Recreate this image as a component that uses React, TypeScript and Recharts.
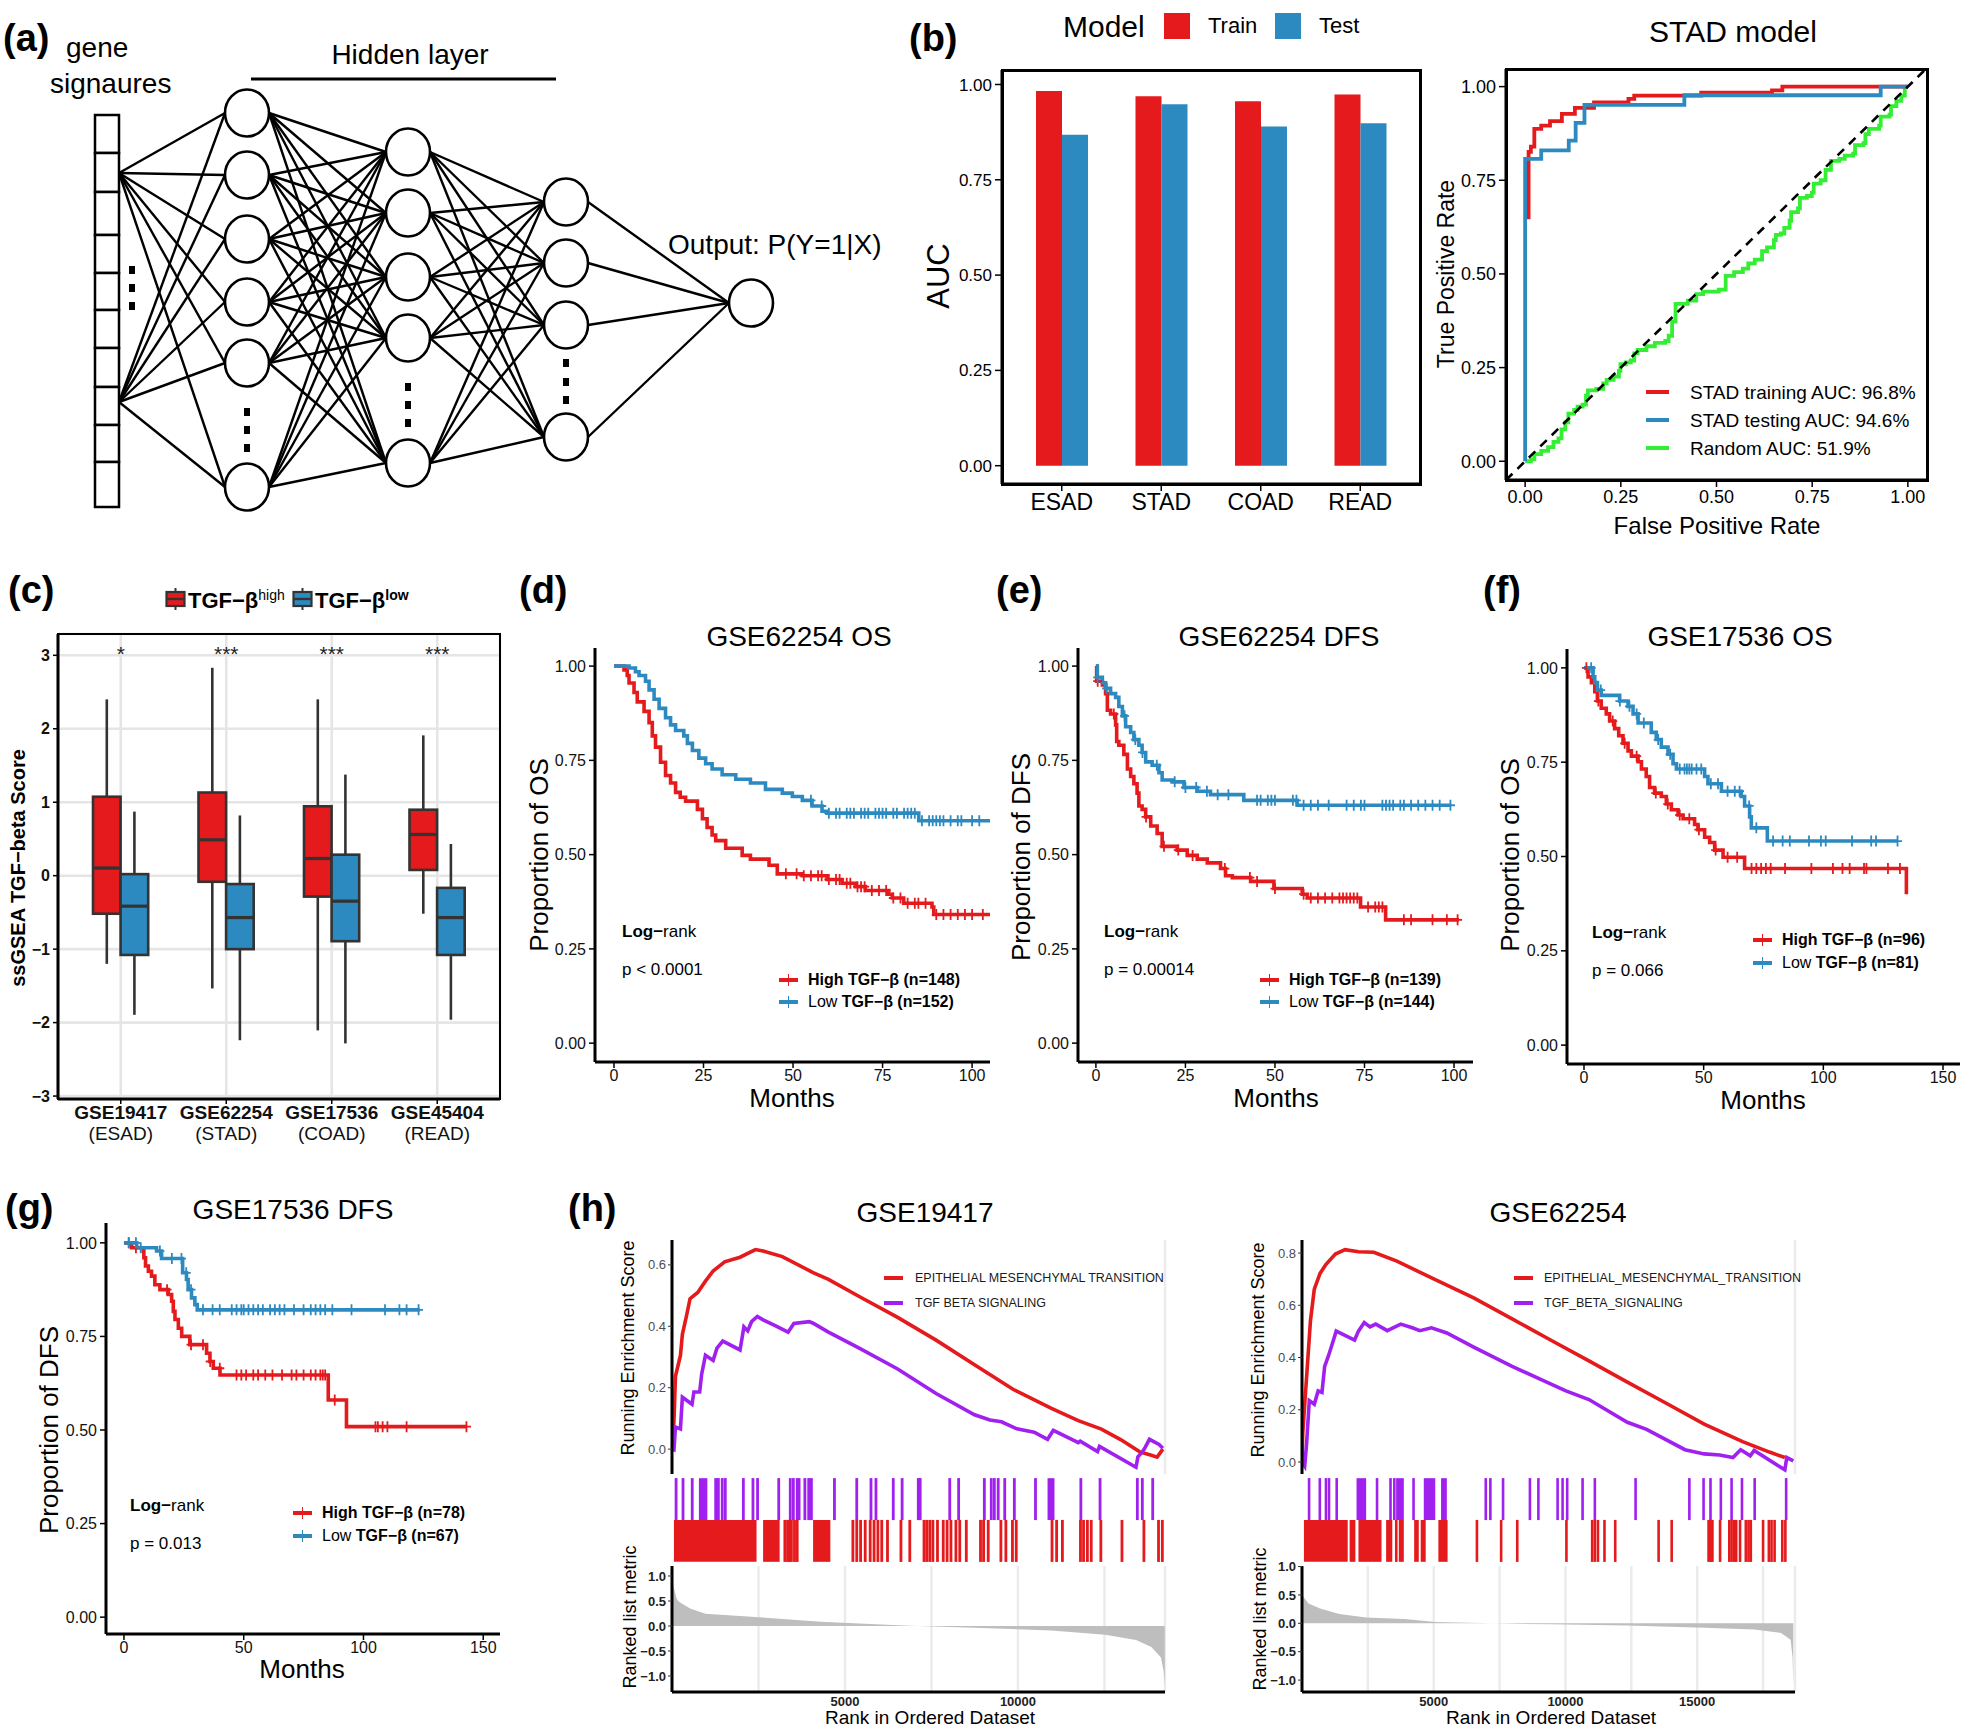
import React from 'react';
import {
  ComposedChart,
  BarChart,
  Bar,
  Line,
  Area,
  Scatter,
  XAxis,
  YAxis,
  CartesianGrid,
  ReferenceLine,
  ReferenceArea,
  ReferenceDot,
} from 'recharts';

const FONT = '"Liberation Sans", Arial, Helvetica, sans-serif';
const RED = '#E41A1C';
const BLUE = '#2C8AC0';
const PURPLE = '#A020F0';
const LIME = '#33EE33';
const GRID = '#EBEBEB';

type Pt = [number, number];
type Frame = { x0: number; y0: number; x1: number; y1: number };

// ---------- (a) network diagram ----------
const netInputFan = [173, 402];
const netLayers = [
  [113, 175, 239, 302, 363, 487],
  [152, 213, 277, 338, 463],
  [202, 263, 325, 437],
  [303],
];
const netLayerX = [247, 408, 566, 751];
const netInputCells = [115, 153, 192, 235, 273, 310, 348, 387, 425, 462, 507];
const netDots = [
  { x: 132, ys: [270, 288, 306] },
  { x: 247, ys: [412, 430, 448] },
  { x: 408, ys: [387, 405, 423] },
  { x: 566, ys: [363, 382, 400] },
];

// ---------- (b) AUC bars + ROC ----------
const aucModels = ['ESAD', 'STAD', 'COAD', 'READ'];
const aucTrain = [0.983, 0.969, 0.956, 0.974];
const aucTest = [0.868, 0.948, 0.89, 0.898];

const rocTrain: Pt[] = [
  [0.009, 0.646], [0.009, 0.826], [0.015, 0.84], [0.024, 0.887], [0.042, 0.896], [0.065, 0.908],
  [0.096, 0.927], [0.13, 0.943], [0.18, 0.958], [0.27, 0.967], [0.285, 0.976], [0.46, 0.984],
  [0.645, 0.99], [0.672, 1.0], [1.0, 1.0],
];
const rocTest: Pt[] = [
  [0, 0], [0, 0.807], [0.042, 0.83], [0.114, 0.856], [0.132, 0.903], [0.155, 0.951],
  [0.416, 0.977], [0.929, 1.0], [1.0, 1.0],
];
const rocRandom: Pt[] = [
  [0, 0], [0.002, 0], [0.015, 0.005], [0.024, 0.019], [0.042, 0.028], [0.06, 0.038], [0.074, 0.052],
  [0.087, 0.061], [0.095, 0.085], [0.105, 0.104], [0.113, 0.127], [0.128, 0.137], [0.137, 0.146],
  [0.15, 0.151], [0.159, 0.175], [0.164, 0.189], [0.186, 0.193], [0.204, 0.208], [0.213, 0.217],
  [0.231, 0.226], [0.245, 0.241], [0.249, 0.259], [0.263, 0.264], [0.276, 0.269], [0.285, 0.288],
  [0.294, 0.297], [0.317, 0.307], [0.339, 0.316], [0.366, 0.321], [0.375, 0.335], [0.384, 0.373],
  [0.393, 0.392], [0.393, 0.42], [0.425, 0.429], [0.447, 0.446], [0.465, 0.453], [0.506, 0.458],
  [0.524, 0.495], [0.546, 0.505], [0.569, 0.514], [0.583, 0.528], [0.6, 0.538], [0.619, 0.561],
  [0.632, 0.571], [0.65, 0.59], [0.655, 0.604], [0.668, 0.608], [0.677, 0.623], [0.691, 0.642],
  [0.695, 0.665], [0.713, 0.675], [0.718, 0.703], [0.736, 0.708], [0.749, 0.717], [0.754, 0.741],
  [0.772, 0.75], [0.785, 0.778], [0.799, 0.802], [0.821, 0.807], [0.835, 0.816], [0.857, 0.821],
  [0.862, 0.844], [0.884, 0.849], [0.889, 0.873], [0.898, 0.887], [0.925, 0.896], [0.929, 0.92],
  [0.952, 0.925], [0.956, 0.948], [0.97, 0.962], [0.983, 0.976], [0.992, 1.0],
];

// ---------- (c) ssGSEA boxes: [lower whisker, Q1, median, Q3, upper whisker] ----------
const boxSets = ['GSE19417', 'GSE62254', 'GSE17536', 'GSE45404'];
const boxTypes = ['ESAD', 'STAD', 'COAD', 'READ'];
const boxStars = ['*', '***', '***', '***'];
const boxHigh = [
  [-1.2, -0.518, 0.104, 1.075, 2.4],
  [-1.535, -0.083, 0.488, 1.132, 2.83],
  [-2.106, -0.285, 0.234, 0.945, 2.4],
  [-0.518, 0.078, 0.561, 0.898, 1.91],
];
const boxLow = [
  [-1.894, -1.079, -0.415, 0.021, 0.872],
  [-2.24, -1.0, -0.57, -0.114, 0.82],
  [-2.283, -0.892, -0.347, 0.286, 1.376],
  [-1.961, -1.079, -0.57, -0.166, 0.431],
];

// ---------- (d)-(g) Kaplan-Meier ----------
const osHigh62254: Pt[] = [
  [0, 1], [2.8, 0.99], [3.7, 0.975], [4.2, 0.955], [5.6, 0.93], [6.5, 0.905], [8.4, 0.88], [9.8, 0.85],
  [10.7, 0.815], [11.6, 0.785], [13.0, 0.745], [14.4, 0.71], [15.8, 0.69], [17.2, 0.665], [18.5, 0.652],
  [20.0, 0.642], [23.3, 0.62], [24.7, 0.595], [26.0, 0.572], [27.4, 0.552], [28.4, 0.537], [31.2, 0.517],
  [35.8, 0.498], [38.1, 0.488], [43.3, 0.472], [45.6, 0.449], [52.6, 0.444], [59.5, 0.434], [63.7, 0.424],
  [67.4, 0.415], [70.2, 0.405], [76.7, 0.395], [77.7, 0.385], [80.9, 0.371], [88.8, 0.361], [89.3, 0.341],
  [105, 0.341],
];
const osLow62254: Pt[] = [
  [0, 1], [4.2, 0.995], [6.0, 0.985], [7.0, 0.975], [8.8, 0.96], [9.8, 0.937], [11.2, 0.912], [12.6, 0.888],
  [14.4, 0.863], [15.8, 0.844], [17.2, 0.829], [19.5, 0.815], [20.5, 0.795], [21.9, 0.776], [23.7, 0.756],
  [25.6, 0.741], [27.4, 0.727], [30.2, 0.712], [34.0, 0.7], [38.1, 0.69], [42.3, 0.673], [47.0, 0.663],
  [49.8, 0.654], [52.6, 0.644], [55.3, 0.629], [58.1, 0.615], [59.5, 0.61], [85.1, 0.59], [105, 0.59],
];
const osHighCens62254 = [48, 51, 53, 55, 57, 58, 60, 62, 63, 65, 66, 68, 69, 70, 72, 74, 76, 78, 80, 82, 84, 85, 87, 90, 92, 94, 96, 98, 100, 103];
const osLowCens62254 = [55, 58, 60, 62, 63, 65, 66, 67, 69, 70, 71, 73, 74, 75, 76, 78, 79, 81, 82, 83, 84, 86, 88, 89, 90, 91, 92, 94, 96, 97, 100, 102];

const dfsHigh62254: Pt[] = [
  [0, 1], [0.2, 0.96], [1.8, 0.95], [2.7, 0.927], [3.2, 0.883], [4.1, 0.873], [5.5, 0.844], [5.8, 0.8],
  [6.4, 0.79], [7.8, 0.766], [8.8, 0.727], [9.7, 0.707], [10.6, 0.688], [11.5, 0.663], [12.0, 0.629],
  [12.9, 0.62], [13.9, 0.6], [15.3, 0.576], [17.1, 0.556], [18.5, 0.522], [22.7, 0.512], [25.5, 0.498],
  [28.3, 0.488], [31.1, 0.478], [34.8, 0.463], [36.2, 0.444], [38.1, 0.439], [43.2, 0.429], [49.7, 0.41],
  [57.6, 0.395], [59.0, 0.385], [73.9, 0.361], [80.9, 0.327], [101.4, 0.327],
];
const dfsLow62254: Pt[] = [
  [0, 1], [0.4, 0.97], [1.8, 0.956], [2.7, 0.941], [4.1, 0.927], [5.5, 0.917], [6.4, 0.893], [7.4, 0.868],
  [8.3, 0.839], [9.7, 0.824], [10.6, 0.805], [12.0, 0.79], [12.9, 0.771], [13.9, 0.746], [15.7, 0.737],
  [17.6, 0.717], [18.5, 0.698], [21.3, 0.693], [24.6, 0.678], [28.3, 0.668], [32.0, 0.659], [41.3, 0.644],
  [56.2, 0.631], [99.1, 0.631],
];
const dfsHighCens62254 = [0.5, 5, 14, 19, 23, 27, 36, 43, 45, 50, 58, 60, 62, 64, 66, 68, 69, 70, 71, 72, 73, 76, 78, 79, 80, 86, 88, 94, 98, 101];
const dfsLowCens62254 = [0.5, 3, 8, 11, 13, 17, 22, 25, 28, 31, 34, 37, 45, 46, 48, 49, 50, 55, 56, 58, 60, 62, 65, 70, 72, 74, 75, 80, 81, 82, 83, 85, 86, 88, 90, 92, 94, 96, 99];

const osHigh17536: Pt[] = [
  [0, 1], [1.7, 0.976], [3.1, 0.961], [4.5, 0.937], [5.6, 0.912], [7.2, 0.893], [9.3, 0.878], [10.7, 0.859],
  [12.8, 0.839], [14.5, 0.82], [16.3, 0.8], [18.4, 0.78], [19.8, 0.766], [22.6, 0.751], [24.0, 0.732],
  [26.0, 0.712], [27.4, 0.683], [29.5, 0.668], [32.3, 0.659], [34.4, 0.639], [36.5, 0.624], [39.3, 0.61],
  [41.4, 0.6], [46.2, 0.585], [47.6, 0.571], [50.4, 0.551], [52.5, 0.537], [54.6, 0.517], [58.1, 0.498],
  [67.1, 0.468], [134.7, 0.4],
];
const osLow17536: Pt[] = [
  [0, 1], [3.8, 0.976], [4.5, 0.961], [5.6, 0.941], [7.2, 0.927], [14.9, 0.912], [18.4, 0.898], [20.5, 0.878],
  [22.6, 0.854], [28.1, 0.829], [30.2, 0.81], [32.3, 0.79], [35.1, 0.771], [37.2, 0.746], [38.6, 0.732],
  [50.4, 0.712], [51.8, 0.693], [57.4, 0.673], [65.7, 0.659], [67.1, 0.634], [69.2, 0.605], [69.9, 0.576],
  [76.6, 0.541], [131.2, 0.541],
];
const osHighCens17536 = [1, 6, 12, 17, 22, 30, 35, 40, 44, 48, 55, 60, 64, 70, 72, 74, 76, 78, 84, 95, 104, 108, 111, 117, 118, 127, 132];
const osLowCens17536 = [3, 7, 15, 19, 22, 25, 31, 36, 40, 42, 43, 44, 45, 47, 49, 53, 56, 60, 63, 65, 69, 72, 79, 83, 86, 94, 99, 101, 112, 120, 122, 131];

const dfsHigh17536: Pt[] = [
  [0, 1], [3.2, 0.987], [8.1, 0.978], [8.3, 0.96], [9.0, 0.938], [10.2, 0.924], [11.5, 0.911], [12.9, 0.888],
  [15.0, 0.875], [18.5, 0.862], [19.9, 0.844], [20.6, 0.817], [21.3, 0.795], [22.7, 0.772], [24.1, 0.75],
  [27.5, 0.728], [34.5, 0.705], [35.9, 0.683], [37.3, 0.665], [40.1, 0.647], [85.3, 0.58], [92.9, 0.509],
  [143, 0.509],
];
const dfsLow17536: Pt[] = [
  [0, 1], [5.3, 0.987], [13.6, 0.978], [15.7, 0.958], [24.5, 0.92], [26.1, 0.902], [26.8, 0.875],
  [28.2, 0.853], [29.6, 0.835], [30.6, 0.821], [123.5, 0.821],
];
const dfsHighCens17536 = [2, 5, 18, 28, 33, 36, 40, 47, 49, 51, 54, 56, 59, 62, 66, 70, 72, 75, 78, 80, 82, 83, 84, 88, 105, 106, 108, 110, 118, 143];
const dfsLowCens17536 = [2, 5, 7, 15, 20, 24, 26, 28, 33, 37, 40, 45, 47, 49, 50, 52, 54, 56, 58, 61, 63, 65, 67, 71, 75, 78, 80, 82, 84, 87, 95, 109, 115, 118, 123];

// ---------- (h) GSEA ----------
const esEmt19417: Pt[] = [
  [0, 0], [56, 0.09], [100, 0.237], [244, 0.305], [300, 0.374], [411, 0.43], [522, 0.49], [744, 0.51],
  [967, 0.547], [1189, 0.58], [1522, 0.61], [1967, 0.625], [2411, 0.65], [2633, 0.645], [3189, 0.627],
  [4078, 0.575], [4522, 0.553], [5411, 0.497], [6522, 0.429], [7633, 0.355], [8744, 0.275], [9856, 0.195],
  [10967, 0.133], [11744, 0.093], [12411, 0.065], [12967, 0.031], [13522, -0.009], [13856, -0.02],
  [14022, -0.026], [14189, 0.0],
];
const esTgf19417: Pt[] = [
  [0, 0], [56, -0.002], [100, 0.072], [244, 0.066], [300, 0.169], [578, 0.146], [633, 0.186], [800, 0.186],
  [856, 0.243], [967, 0.306], [1189, 0.289], [1300, 0.329], [1467, 0.352], [1967, 0.323], [2078, 0.398],
  [2189, 0.385], [2300, 0.415], [2467, 0.432], [2633, 0.421], [2967, 0.403], [3356, 0.381], [3522, 0.409],
  [3967, 0.415], [4078, 0.41], [4522, 0.381], [5411, 0.329], [6522, 0.261], [7633, 0.181], [8744, 0.112],
  [9189, 0.095], [9522, 0.089], [9967, 0.066], [10467, 0.055], [10856, 0.032], [11022, 0.061],
  [11744, 0.021], [11800, 0.026], [12300, -0.008], [12356, 0.009], [13411, -0.059], [13467, -0.025],
  [13600, -0.008], [13650, 0.0], [13800, 0.032], [14078, 0.015], [14189, 0.003],
];
const metric19417: Pt[] = [
  [0, 1.05], [40, 0.8], [133, 0.55], [190, 0.49], [522, 0.35], [967, 0.245], [2522, 0.175], [4300, 0.084],
  [6522, 0.014], [7100, 0.0], [8744, -0.035], [10967, -0.09], [12522, -0.175], [13411, -0.28],
  [13856, -0.42], [14133, -0.63], [14210, -0.9], [14244, -1.19],
];
const tgfHits19417 = [78, 278, 544, 1222, 1300, 1411, 1500, 2022, 2300, 2433, 3044, 3378, 3467, 3578, 3633, 3800, 3911, 3989, 4655, 5300, 5711, 5855, 6355, 6611, 7078, 7133, 7988, 8244, 8988, 9188, 9277, 9388, 9577, 9855, 10466, 11777, 12332, 13410, 13554, 13854];
const tgfSpans19417 = [[778, 1022], [10855, 11055]];
const emtHits19417 = [3222, 3300, 3355, 3411, 3500, 3578, 5188, 5300, 5411, 5544, 5688, 5800, 5911, 6022, 6188, 6577, 6833, 7244, 7322, 7410, 7500, 7633, 7800, 7911, 8022, 8166, 8277, 8466, 8877, 8966, 9100, 9466, 9610, 9800, 9910, 10944, 11077, 11244, 11766, 11855, 11966, 12077, 12355, 12966, 13600, 14022, 14133];
const emtSpans19417 = [[56, 2444], [2633, 3111], [4078, 4577]];

const esEmt62254: Pt[] = [
  [0, 0], [29, 0.111], [102, 0.219], [175, 0.326], [321, 0.541], [467, 0.662], [685, 0.722], [904, 0.756],
  [1268, 0.796], [1633, 0.813], [2143, 0.805], [2726, 0.803], [3601, 0.769], [5059, 0.698], [6517, 0.628],
  [7975, 0.548], [9433, 0.467], [10891, 0.387], [12349, 0.306], [13807, 0.226], [15265, 0.145],
  [16723, 0.078], [17744, 0.038], [18327, 0.017],
];
const esTgf62254: Pt[] = [
  [0, 0], [102, -0.016], [175, 0.071], [277, 0.235], [467, 0.221], [612, 0.272], [758, 0.266], [860, 0.366],
  [1006, 0.407], [1195, 0.467], [1298, 0.501], [1997, 0.467], [2143, 0.501], [2362, 0.534], [2581, 0.517],
  [2799, 0.528], [3237, 0.503], [3747, 0.528], [4185, 0.514], [4476, 0.503], [4913, 0.514], [5497, 0.494],
  [6517, 0.44], [7975, 0.366], [9433, 0.299], [10016, 0.272], [10891, 0.239], [12349, 0.152],
  [13078, 0.125], [14536, 0.047], [15265, 0.031], [15848, 0.027], [16358, 0.017], [16650, 0.047],
  [17015, 0.024], [17161, 0.044], [18327, -0.03], [18400, 0.017], [18648, 0.004],
];
const metric62254: Pt[] = [
  [0, 0.5], [248, 0.35], [685, 0.26], [1414, 0.166], [2435, 0.104], [3893, 0.074], [5059, 0.025],
  [7246, 0.0], [9433, -0.018], [12349, -0.037], [15265, -0.08], [17161, -0.11], [18182, -0.17],
  [18546, -0.29], [18620, -0.6], [18648, -1.09],
];
const tgfHits62254 = [219, 627, 860, 977, 1268, 2799, 3310, 3455, 4184, 6926, 7100, 7582, 8602, 8923, 9652, 9841, 10016, 10600, 11066, 12612, 14653, 15192, 15455, 15848, 16256, 16650, 17132, 18327];
const tgfSpans62254 = [[2070, 2435], [3572, 3864], [4622, 5059], [5278, 5497]];
const emtHits62254 = [3528, 6590, 7509, 8121, 9987, 10964, 11066, 11183, 11431, 11839, 13486, 13982, 15382, 15455, 15528, 15819, 16169, 16256, 16358, 16431, 16577, 16796, 16898, 16985, 17451, 17670, 17772, 17888, 18180, 18297];
const emtSpans62254 = [[73, 1735], [1808, 2027], [2143, 3018], [3193, 3426], [3674, 3864], [4257, 4432], [4505, 4695], [5176, 5526]];

// ---------- helpers ----------
const PAD = 12;
const frameBox = (f: Frame, yw: number, xh: number) => ({
  left: f.x0 - yw - PAD,
  top: f.y0 - PAD,
  width: f.x1 - f.x0 + yw + 2 * PAD,
  height: f.y1 - f.y0 + xh + 2 * PAD,
  margin: { top: PAD, right: PAD, bottom: PAD, left: PAD },
});

const toObj = (pts: Pt[], xk: string, yk: string) => pts.map(([a, b]) => ({ [xk]: a, [yk]: b }));
const survAt = (curve: Pt[], t: number) => {
  let s = curve[0][1];
  for (const [ti, si] of curve) if (ti <= t) s = si;
  return s;
};
const signed = (d: number) => (v: number) => (v < 0 ? '\u2212' : '') + Math.abs(v).toFixed(d);

const Border = ({ f, w }: { f: Frame; w: number }) => (
  <div
    style={{
      position: 'absolute', left: f.x0 - w / 2, top: f.y0 - w / 2,
      width: f.x1 - f.x0 + w, height: f.y1 - f.y0 + w,
      border: `${w}px solid #000`, boxSizing: 'border-box', pointerEvents: 'none',
    }}
  />
);

type TP = {
  x: number; y: number; size: number; bold?: boolean; rot?: boolean;
  align?: 'left' | 'center' | 'right'; color?: string; children: React.ReactNode;
};
const Txt = ({ x, y, size, bold, rot, align = 'center', color = '#000', children }: TP) => {
  const tx = align === 'left' ? '0' : align === 'right' ? '-100%' : '-50%';
  return (
    <div
      style={{
        position: 'absolute', left: x, top: y, fontSize: size, fontWeight: bold ? 700 : 400, color,
        whiteSpace: 'nowrap', lineHeight: 1, transform: `translate(${tx},-50%)${rot ? ' rotate(-90deg)' : ''}`,
      }}
    >
      {children}
    </div>
  );
};

const KeyLine = ({ x, y, w, color, plus }: { x: number; y: number; w: number; color: string; plus?: boolean }) => (
  <>
    <div style={{ position: 'absolute', left: x, top: y - 2.25, width: w, height: 4.5, background: color }} />
    {plus && <div style={{ position: 'absolute', left: x + w / 2 - 0.9, top: y - 6, width: 1.8, height: 12, background: color }} />}
  </>
);

const axisLine3 = { stroke: '#000', strokeWidth: 3 };
const tickLine = { stroke: '#000', strokeWidth: 1.5 };

// ---------- (a) ----------
const NODE_R = 22;
const NetworkPanel = () => {
  const nodes = netLayers.flatMap((ys, i) => ys.map((y) => ({ x: netLayerX[i], y })));
  const dots = netDots.flatMap((d) => d.ys.map((y) => ({ x: d.x, y })));
  const edges: number[][] = [];
  netInputFan.forEach((y0) => netLayers[0].forEach((y1) => edges.push([119, y0, netLayerX[0] - NODE_R, y1])));
  for (let l = 0; l < netLayers.length - 1; l++) {
    netLayers[l].forEach((ya) =>
      netLayers[l + 1].forEach((yb) => edges.push([netLayerX[l] + NODE_R, ya, netLayerX[l + 1] - NODE_R, yb])),
    );
  }
  return (
    <div style={{ position: 'absolute', left: 0, top: 0 }}>
      <ComposedChart width={904} height={515} margin={{ top: 0, right: 0, bottom: 0, left: 0 }}>
        <XAxis type="number" dataKey="x" domain={[0, 904]} hide />
        <YAxis type="number" dataKey="y" domain={[0, 515]} reversed hide />
        <ReferenceLine segment={[{ x: 251, y: 79 }, { x: 556, y: 79 }]} stroke="#000" strokeWidth={3} />
        {netInputCells.slice(0, -1).map((y, i) => (
          <ReferenceArea key={'c' + i} x1={95} x2={119} y1={y} y2={netInputCells[i + 1]} fill="#fff" fillOpacity={1} stroke="#000" strokeWidth={2.5} />
        ))}
        {edges.map((e, i) => (
          <ReferenceLine key={'e' + i} segment={[{ x: e[0], y: e[1] }, { x: e[2], y: e[3] }]} stroke="#000" strokeWidth={2.4} />
        ))}
        <Scatter
          data={nodes}
          isAnimationActive={false}
          shape={(p: any) => <ellipse cx={p.cx} cy={p.cy} rx={NODE_R} ry={23.5} fill="#fff" stroke="#000" strokeWidth={2.6} />}
        />
        <Scatter
          data={dots}
          isAnimationActive={false}
          shape={(p: any) => <rect x={p.cx - 3} y={p.cy - 4} width={6} height={8} fill="#000" />}
        />
      </ComposedChart>
    </div>
  );
};

// ---------- (b) bars ----------
const AucBars = () => {
  const f = { x0: 1002, y0: 70, x1: 1420, y1: 484 };
  const b = frameBox(f, 50, 40);
  const data = aucModels.map((m, i) => ({ model: m, train: aucTrain[i], test: aucTest[i] }));
  return (
    <>
      <div style={{ position: 'absolute', left: b.left, top: b.top }}>
        <BarChart width={b.width} height={b.height} margin={b.margin} data={data} barGap={0}>
          <XAxis
            dataKey="model" padding={{ left: 10, right: 10 }} height={40} tickSize={7} tickMargin={3}
            tick={{ fontSize: 23, fill: '#000', fontFamily: FONT }} tickLine={tickLine} axisLine={axisLine3}
          />
          <YAxis
            type="number" domain={[-0.048, 1.038]} allowDataOverflow ticks={[0, 0.25, 0.5, 0.75, 1]} interval={0}
            width={50} tickSize={7} tickMargin={3} tickFormatter={(v: number) => v.toFixed(2)}
            tick={{ fontSize: 17, fill: '#000', fontFamily: FONT }} tickLine={tickLine} axisLine={axisLine3}
          />
          <Bar dataKey="train" fill={RED} barSize={26} isAnimationActive={false} />
          <Bar dataKey="test" fill={BLUE} barSize={26} isAnimationActive={false} />
        </BarChart>
      </div>
      <Border f={f} w={3} />
    </>
  );
};

// ---------- (b) ROC ----------
const RocChart = () => {
  const f = { x0: 1506, y0: 69, x1: 1927, y1: 480 };
  const b = frameBox(f, 56, 34);
  const tk = { fontSize: 18, fill: '#000', fontFamily: FONT };
  return (
    <>
      <div style={{ position: 'absolute', left: b.left, top: b.top }}>
        <ComposedChart width={b.width} height={b.height} margin={b.margin}>
          <XAxis
            type="number" dataKey="fpr" domain={[-0.05, 1.05]} allowDataOverflow ticks={[0, 0.25, 0.5, 0.75, 1]}
            interval={0} height={34} tickSize={7} tickMargin={3} tickFormatter={(v: number) => v.toFixed(2)}
            tick={tk} tickLine={tickLine} axisLine={axisLine3}
          />
          <YAxis
            type="number" domain={[-0.05, 1.047]} allowDataOverflow ticks={[0, 0.25, 0.5, 0.75, 1]} interval={0}
            width={56} tickSize={7} tickMargin={3} tickFormatter={(v: number) => v.toFixed(2)}
            tick={tk} tickLine={tickLine} axisLine={axisLine3}
          />
          <Line data={toObj(rocRandom, 'fpr', 'tpr')} dataKey="tpr" type="stepAfter" stroke={LIME} strokeWidth={3.8} dot={false} isAnimationActive={false} />
          <Line data={toObj(rocTrain, 'fpr', 'tpr')} dataKey="tpr" type="stepAfter" stroke={RED} strokeWidth={3.8} dot={false} isAnimationActive={false} />
          <Line data={toObj(rocTest, 'fpr', 'tpr')} dataKey="tpr" type="stepAfter" stroke={BLUE} strokeWidth={3.8} dot={false} isAnimationActive={false} />
          <ReferenceLine
            segment={[{ x: -0.05, y: -0.05 }, { x: 1.047, y: 1.047 }]}
            stroke="#000" strokeWidth={2.6} strokeDasharray="9 7" ifOverflow="visible"
          />
        </ComposedChart>
      </div>
      <Border f={f} w={3} />
    </>
  );
};

// ---------- (c) boxes ----------
const boxShape = (color: string, key: 'high' | 'low') => (p: any) => {
  const { x, y, width, height, payload } = p;
  if (!payload) return <g />;
  const [lo, q1, med, q3, hi] = payload[key];
  const top = Math.min(y, y + height);
  const h = Math.abs(height);
  const py = (v: number) => top + ((hi - v) / (hi - lo)) * h;
  const cx = x + width / 2;
  return (
    <g>
      <line x1={cx} x2={cx} y1={py(hi)} y2={py(q3)} stroke="#333" strokeWidth={2.6} />
      <line x1={cx} x2={cx} y1={py(q1)} y2={py(lo)} stroke="#333" strokeWidth={2.6} />
      <rect x={x} y={py(q3)} width={width} height={py(q1) - py(q3)} fill={color} stroke="#333" strokeWidth={2.6} />
      <line x1={x} x2={x + width} y1={py(med)} y2={py(med)} stroke="#333" strokeWidth={3.2} />
    </g>
  );
};

const BoxTick = (p: any) => {
  const { x, y, payload } = p;
  const i = boxSets.indexOf(payload.value);
  return (
    <g>
      <text x={x} y={y + 13} textAnchor="middle" fontSize={19} fontWeight={700} fill="#111" fontFamily={FONT}>{payload.value}</text>
      <text x={x} y={y + 34} textAnchor="middle" fontSize={19} fill="#111" fontFamily={FONT}>({boxTypes[i]})</text>
    </g>
  );
};

const BoxChart = () => {
  const f = { x0: 58, y0: 634, x1: 500, y1: 1099 };
  const b = frameBox(f, 36, 50);
  const data = boxSets.map((s, i) => ({ set: s, high: boxHigh[i], low: boxLow[i] }));
  const dom: [number, number] = [-3.04, 3.29];
  return (
    <>
      <div style={{ position: 'absolute', left: b.left, top: b.top }}>
        <BarChart width={b.width} height={b.height} margin={b.margin} data={data} barGap={0}>
          <CartesianGrid yAxisId="minor" vertical={false} stroke={GRID} strokeWidth={1.3} />
          <CartesianGrid stroke="#E5E5E5" strokeWidth={2.6} />
          <XAxis
            dataKey="set" padding={{ left: 10, right: 10 }} height={50} tickSize={5} tickMargin={2}
            tick={<BoxTick />} tickLine={tickLine} axisLine={axisLine3}
          />
          <YAxis
            type="number" domain={dom} allowDataOverflow ticks={[-3, -2, -1, 0, 1, 2, 3]} interval={0} width={36}
            tickSize={5} tickMargin={3} tickFormatter={signed(0)}
            tick={{ fontSize: 16, fontWeight: 700, fill: '#111', fontFamily: FONT }} tickLine={tickLine} axisLine={axisLine3}
          />
          <YAxis
            yAxisId="minor" type="number" domain={dom} allowDataOverflow ticks={[-2.5, -1.5, -0.5, 0.5, 1.5, 2.5]}
            width={0} tick={false} tickLine={false} axisLine={false}
          />
          <Bar dataKey={(d: any) => [d.high[0], d.high[4]]} barSize={27.6} shape={boxShape(RED, 'high')} isAnimationActive={false} />
          <Bar dataKey={(d: any) => [d.low[0], d.low[4]]} barSize={27.6} shape={boxShape(BLUE, 'low')} isAnimationActive={false} />
          {boxSets.map((s, i) => (
            <ReferenceDot key={s} x={s} y={3.02} r={0} stroke="none"
              label={{ value: boxStars[i], position: 'center', fontSize: 21, fill: '#222', fontFamily: FONT }} />
          ))}
        </BarChart>
      </div>
      <Border f={f} w={2} />
    </>
  );
};

const BoxKey = ({ x, y, color }: { x: number; y: number; color: string }) => (
  <svg style={{ position: 'absolute', left: x, top: y }} width={21} height={22}>
    <line x1={10.5} x2={10.5} y1={0} y2={22} stroke="#333" strokeWidth={2} />
    <rect x={1.5} y={4} width={18} height={14} fill={color} stroke="#333" strokeWidth={2.2} />
    <line x1={1.5} x2={19.5} y1={11} y2={11} stroke="#333" strokeWidth={2.4} />
  </svg>
);

// ---------- (d)-(g) KM ----------
const plusShape = (c: string) => (p: any) =>
  p.cx == null ? <g /> : <path d={`M${p.cx - 4.5},${p.cy}h9M${p.cx},${p.cy - 5.5}v11`} stroke={c} strokeWidth={1.8} fill="none" />;

type KMProps = {
  f: Frame; xDomain: [number, number]; xTicks: number[]; yDomain: [number, number];
  high: Pt[]; low: Pt[]; highCens: number[]; lowCens: number[];
};
const KMChart = ({ f, xDomain, xTicks, yDomain, high, low, highCens, lowCens }: KMProps) => {
  const yw = 50;
  const xh = 30;
  const b = frameBox(f, yw, xh);
  const hc = highCens.map((t) => ({ t, s: survAt(high, t) }));
  const lc = lowCens.map((t) => ({ t, s: survAt(low, t) }));
  const tk = { fontSize: 16, fill: '#111', fontFamily: FONT };
  return (
    <div style={{ position: 'absolute', left: b.left, top: b.top }}>
      <ComposedChart width={b.width} height={b.height} margin={b.margin}>
        <XAxis
          type="number" dataKey="t" domain={xDomain} allowDataOverflow ticks={xTicks} interval={0} height={xh}
          tickSize={6} tickMargin={2} tick={tk} tickLine={tickLine} axisLine={axisLine3}
        />
        <YAxis
          type="number" dataKey="s" domain={yDomain} allowDataOverflow ticks={[0, 0.25, 0.5, 0.75, 1]} interval={0}
          width={yw} tickSize={6} tickMargin={3} tickFormatter={(v: number) => v.toFixed(2)}
          tick={tk} tickLine={tickLine} axisLine={axisLine3}
        />
        <Line data={toObj(high, 't', 's')} dataKey="s" type="stepAfter" stroke={RED} strokeWidth={3.6} dot={false} isAnimationActive={false} />
        <Line data={toObj(low, 't', 's')} dataKey="s" type="stepAfter" stroke={BLUE} strokeWidth={3.6} dot={false} isAnimationActive={false} />
        <Scatter data={hc} shape={plusShape(RED)} isAnimationActive={false} />
        <Scatter data={lc} shape={plusShape(BLUE)} isAnimationActive={false} />
      </ComposedChart>
    </div>
  );
};

type KMTextProps = {
  title: string; tx: number; ty: number; mx: number; my: number; yl: string; lx: number; ly: number;
  lrx: number; lry: number; pText: string; kx: number; ky1: number; ky2: number; hiN: string; loN: string;
};
const KMText = (p: KMTextProps) => (
  <>
    <Txt x={p.tx} y={p.ty} size={28}>{p.title}</Txt>
    <Txt x={p.mx} y={p.my} size={26}>Months</Txt>
    <Txt x={p.lx} y={p.ly} size={26} rot>{p.yl}</Txt>
    <Txt x={p.lrx} y={p.lry} size={17} align="left"><span style={{ fontWeight: 700 }}>Log−</span>rank</Txt>
    <Txt x={p.lrx} y={p.lry + 38} size={17} align="left">{p.pText}</Txt>
    <KeyLine x={p.kx} y={p.ky1} w={19} color={RED} plus />
    <KeyLine x={p.kx} y={p.ky2} w={19} color={BLUE} plus />
    <Txt x={p.kx + 29} y={p.ky1} size={16} bold align="left">High TGF−β (n={p.hiN})</Txt>
    <Txt x={p.kx + 29} y={p.ky2} size={16} align="left">Low <b>TGF−β (n={p.loN})</b></Txt>
  </>
);

// ---------- (h) GSEA ----------
type GseaProps = {
  x0: number; x1: number; xMax: number; esDomain: [number, number]; esTicks: number[];
  metricDomain: [number, number]; red: Pt[]; purple: Pt[]; metric: Pt[];
  redSpans: number[][]; redHits: number[]; purpleSpans: number[][]; purpleHits: number[];
  gridTicks: number[]; spanW: number;
};
const GseaPanel = (p: GseaProps) => {
  const top = { x0: p.x0, y0: 1240, x1: p.x1, y1: 1474 };
  const mid = { x0: p.x0, y0: 1474, x1: p.x1, y1: 1566 };
  const bot = { x0: p.x0, y0: 1566, x1: p.x1, y1: 1692 };
  const bt = frameBox(top, 34, 0);
  const bm = frameBox(mid, 0, 0);
  const bb = frameBox(bot, 34, 24);
  const singles = [
    ...p.purpleHits.map((r) => ({ r, lane: 1.5, c: PURPLE })),
    ...p.redHits.map((r) => ({ r, lane: 0.5, c: RED })),
  ];
  const tkGray = { fontSize: 13, fill: '#4D4D4D', fontFamily: FONT };
  const tkBold = { fontSize: 13, fontWeight: 700, fill: '#222', fontFamily: FONT };
  return (
    <>
      <div style={{ position: 'absolute', left: bt.left, top: bt.top }}>
        <ComposedChart width={bt.width} height={bt.height} margin={bt.margin}>
          <CartesianGrid horizontal={false} stroke={GRID} strokeWidth={2.4} />
          <XAxis type="number" dataKey="r" domain={[0, p.xMax]} allowDataOverflow ticks={p.gridTicks} interval={0} height={0} tick={false} tickLine={false} axisLine={false} />
          <YAxis
            type="number" domain={p.esDomain} allowDataOverflow ticks={p.esTicks} interval={0} width={34} tickSize={4} tickMargin={2}
            tickFormatter={(v: number) => v.toFixed(1)} tick={tkGray} tickLine={{ stroke: '#333' }} axisLine={axisLine3}
          />
          <Line data={toObj(p.red, 'r', 'es')} dataKey="es" stroke={RED} strokeWidth={3.6} dot={false} isAnimationActive={false} />
          <Line data={toObj(p.purple, 'r', 'es')} dataKey="es" stroke={PURPLE} strokeWidth={3.6} dot={false} isAnimationActive={false} />
        </ComposedChart>
      </div>
      <div style={{ position: 'absolute', left: bm.left, top: bm.top }}>
        <ComposedChart width={bm.width} height={bm.height} margin={bm.margin}>
          <XAxis type="number" dataKey="r" domain={[0, p.xMax]} allowDataOverflow hide />
          <YAxis type="number" dataKey="lane" domain={[-0.1, 2.1]} allowDataOverflow width={0} tick={false} tickLine={false} axisLine={axisLine3} />
          {p.purpleSpans.map((s, i) => (
            <ReferenceArea key={'ps' + i} x1={s[0]} x2={s[1]} y1={1} y2={2} fill={PURPLE} fillOpacity={1} stroke="none" />
          ))}
          {p.redSpans.map((s, i) => (
            <ReferenceArea key={'rs' + i} x1={s[0]} x2={s[1]} y1={0} y2={1} fill={RED} fillOpacity={1} stroke="none" />
          ))}
          <Scatter
            data={singles}
            isAnimationActive={false}
            shape={(q: any) => (q.cx == null ? <g /> : <rect x={q.cx} y={q.cy - 21} width={p.spanW} height={42} fill={q.payload.c} />)}
          />
        </ComposedChart>
      </div>
      <div style={{ position: 'absolute', left: bb.left, top: bb.top }}>
        <ComposedChart width={bb.width} height={bb.height} margin={bb.margin}>
          <CartesianGrid horizontal={false} stroke={GRID} strokeWidth={2.4} />
          <XAxis
            type="number" dataKey="r" domain={[0, p.xMax]} allowDataOverflow ticks={p.gridTicks} interval={0} height={24}
            tickSize={3} tickMargin={2} tickFormatter={(v: number) => (v % 5000 === 0 ? String(v) : '')}
            tick={tkBold} tickLine={false} axisLine={axisLine3}
          />
          <YAxis
            type="number" domain={p.metricDomain} allowDataOverflow ticks={[-1, -0.5, 0, 0.5, 1]} interval={0} width={34}
            tickSize={4} tickMargin={2} tickFormatter={signed(1)} tick={tkBold} tickLine={{ stroke: '#333' }} axisLine={axisLine3}
          />
          <Area data={toObj(p.metric, 'r', 'm')} dataKey="m" type="linear" baseValue={0} fill="#BEBEBE" fillOpacity={1} stroke="none" isAnimationActive={false} />
        </ComposedChart>
      </div>
    </>
  );
};

export default function App() {
  return (
    <div
      style={{
        position: 'absolute', left: 0, top: 0, width: 1968, height: 1729, background: '#fff',
        fontFamily: FONT, color: '#000', overflow: 'hidden',
      }}
    >
      <style>{'.recharts-surface{overflow:visible}'}</style>

      {/* (a) */}
      <NetworkPanel />
      <Txt x={3} y={38} size={38} bold align="left">(a)</Txt>
      <Txt x={66} y={48} size={28} align="left">gene</Txt>
      <Txt x={50} y={84} size={28} align="left">signaures</Txt>
      <Txt x={410} y={55} size={28}>Hidden layer</Txt>
      <Txt x={668} y={245} size={28} align="left">Output: P(Y=1|X)</Txt>

      {/* (b) */}
      <Txt x={909} y={38} size={38} bold align="left">(b)</Txt>
      <Txt x={1063} y={27} size={30} align="left">Model</Txt>
      <div style={{ position: 'absolute', left: 1164, top: 13, width: 26, height: 26, background: RED }} />
      <Txt x={1208} y={26} size={22} align="left">Train</Txt>
      <div style={{ position: 'absolute', left: 1275, top: 13, width: 26, height: 26, background: BLUE }} />
      <Txt x={1319} y={26} size={22} align="left">Test</Txt>
      <Txt x={938} y={276} size={31} rot>AUC</Txt>
      <AucBars />

      <Txt x={1733} y={32} size={30}>STAD model</Txt>
      <Txt x={1446} y={274} size={23} rot>True Positive Rate</Txt>
      <Txt x={1717} y={526} size={24}>False Positive Rate</Txt>
      <RocChart />
      <KeyLine x={1646} y={392} w={23} color={RED} />
      <KeyLine x={1646} y={420} w={23} color={BLUE} />
      <KeyLine x={1646} y={448} w={23} color={LIME} />
      <Txt x={1690} y={392} size={19} align="left">STAD training AUC: 96.8%</Txt>
      <Txt x={1690} y={420} size={19} align="left">STAD testing AUC: 94.6%</Txt>
      <Txt x={1690} y={448} size={19} align="left">Random AUC: 51.9%</Txt>

      {/* (c) */}
      <Txt x={8} y={590} size={38} bold align="left">(c)</Txt>
      <BoxKey x={165} y={588} color={RED} />
      <Txt x={188} y={600} size={22} bold align="left">TGF−β<sup style={{ fontSize: 14, fontWeight: 400 }}>high</sup></Txt>
      <BoxKey x={292} y={588} color={BLUE} />
      <Txt x={315} y={600} size={22} bold align="left">TGF−β<sup style={{ fontSize: 14, fontWeight: 700 }}>low</sup></Txt>
      <Txt x={18} y={868} size={20} bold rot>ssGSEA TGF−beta Score</Txt>
      <BoxChart />

      {/* (d) */}
      <Txt x={519} y={590} size={38} bold align="left">(d)</Txt>
      <KMChart f={{ x0: 595, y0: 648, x1: 990, y1: 1062 }} xDomain={[-5.3, 105]} xTicks={[0, 25, 50, 75, 100]} yDomain={[-0.05, 1.048]}
        high={osHigh62254} low={osLow62254} highCens={osHighCens62254} lowCens={osLowCens62254} />
      <KMText title="GSE62254 OS" tx={799} ty={637} mx={792} my={1098} yl="Proportion of OS" lx={539} ly={855}
        lrx={622} lry={931} pText="p < 0.0001" kx={779} ky1={980} ky2={1002} hiN="148" loN="152" />

      {/* (e) */}
      <Txt x={996} y={590} size={38} bold align="left">(e)</Txt>
      <KMChart f={{ x0: 1078, y0: 648, x1: 1473, y1: 1062 }} xDomain={[-5.0, 105.3]} xTicks={[0, 25, 50, 75, 100]} yDomain={[-0.05, 1.048]}
        high={dfsHigh62254} low={dfsLow62254} highCens={dfsHighCens62254} lowCens={dfsLowCens62254} />
      <KMText title="GSE62254 DFS" tx={1279} ty={637} mx={1276} my={1098} yl="Proportion of DFS" lx={1021} ly={857}
        lrx={1104} lry={931} pText="p = 0.00014" kx={1260} ky1={980} ky2={1002} hiN="139" loN="144" />

      {/* (f) */}
      <Txt x={1483} y={590} size={38} bold align="left">(f)</Txt>
      <KMChart f={{ x0: 1567, y0: 649, x1: 1960, y1: 1064 }} xDomain={[-7.1, 157.1]} xTicks={[0, 50, 100, 150]} yDomain={[-0.05, 1.05]}
        high={osHigh17536} low={osLow17536} highCens={osHighCens17536} lowCens={osLowCens17536} />
      <KMText title="GSE17536 OS" tx={1740} ty={637} mx={1763} my={1100} yl="Proportion of OS" lx={1510} ly={855}
        lrx={1592} lry={932} pText="p = 0.066" kx={1753} ky1={940} ky2={963} hiN="96" loN="81" />

      {/* (g) */}
      <Txt x={5} y={1208} size={38} bold align="left">(g)</Txt>
      <KMChart f={{ x0: 106, y0: 1223, x1: 500, y1: 1634 }} xDomain={[-7.5, 157]} xTicks={[0, 50, 100, 150]} yDomain={[-0.045, 1.053]}
        high={dfsHigh17536} low={dfsLow17536} highCens={dfsHighCens17536} lowCens={dfsLowCens17536} />
      <KMText title="GSE17536 DFS" tx={293} ty={1210} mx={302} my={1669} yl="Proportion of DFS" lx={49} ly={1430}
        lrx={130} lry={1505} pText="p = 0.013" kx={293} ky1={1513} ky2={1536} hiN="78" loN="67" />

      {/* (h) */}
      <Txt x={568} y={1208} size={38} bold align="left">(h)</Txt>
      <Txt x={925} y={1213} size={28}>GSE19417</Txt>
      <Txt x={628} y={1348} size={18} rot>Running Enrichment Score</Txt>
      <Txt x={630} y={1617} size={18} rot>Ranked list metric</Txt>
      <Txt x={930} y={1717} size={19}>Rank in Ordered Dataset</Txt>
      <GseaPanel x0={672} x1={1165} xMax={14250} esDomain={[-0.081, 0.681]} esTicks={[0, 0.2, 0.4, 0.6]}
        metricDomain={[-1.32, 1.2]} red={esEmt19417} purple={esTgf19417} metric={metric19417}
        redSpans={emtSpans19417} redHits={emtHits19417} purpleSpans={tgfSpans19417} purpleHits={tgfHits19417}
        gridTicks={[2500, 5000, 7500, 10000, 12500]} spanW={2.8} />
      <KeyLine x={884} y={1278} w={19} color={RED} />
      <KeyLine x={884} y={1303} w={19} color={PURPLE} />
      <Txt x={915} y={1278} size={12.5} align="left" color="#1a1a1a">EPITHELIAL MESENCHYMAL TRANSITION</Txt>
      <Txt x={915} y={1303} size={12.5} align="left" color="#1a1a1a">TGF BETA SIGNALING</Txt>

      <Txt x={1558} y={1213} size={28}>GSE62254</Txt>
      <Txt x={1258} y={1350} size={18} rot>Running Enrichment Score</Txt>
      <Txt x={1260} y={1619} size={18} rot>Ranked list metric</Txt>
      <Txt x={1551} y={1717} size={19}>Rank in Ordered Dataset</Txt>
      <GseaPanel x0={1302} x1={1795} xMax={18712} esDomain={[-0.046, 0.85]} esTicks={[0, 0.2, 0.4, 0.6, 0.8]}
        metricDomain={[-1.21, 1.01]} red={esEmt62254} purple={esTgf62254} metric={metric62254}
        redSpans={emtSpans62254} redHits={emtHits62254} purpleSpans={tgfSpans62254} purpleHits={tgfHits62254}
        gridTicks={[2500, 5000, 7500, 10000, 12500, 15000, 17500]} spanW={2.6} />
      <KeyLine x={1514} y={1278} w={19} color={RED} />
      <KeyLine x={1514} y={1303} w={19} color={PURPLE} />
      <Txt x={1544} y={1278} size={12.5} align="left" color="#1a1a1a">EPITHELIAL_MESENCHYMAL_TRANSITION</Txt>
      <Txt x={1544} y={1303} size={12.5} align="left" color="#1a1a1a">TGF_BETA_SIGNALING</Txt>
    </div>
  );
}
